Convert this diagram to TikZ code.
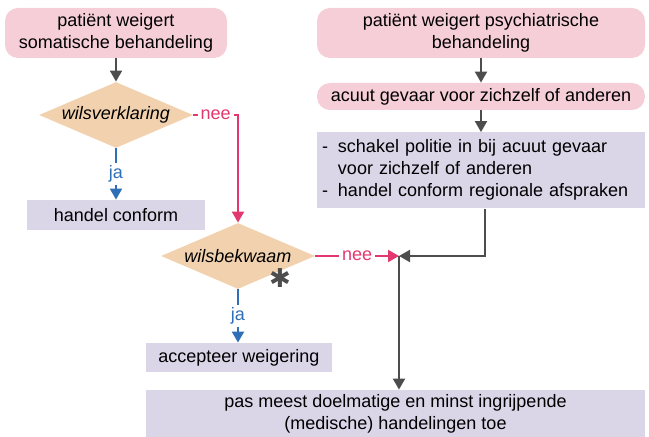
\documentclass[tikz,border=0pt]{standalone}
\usepackage{fontspec}
\setmainfont{Liberation Sans}
\newfontfamily\symfont{DejaVu Sans}
\usetikzlibrary{positioning,shapes.geometric,arrows.meta}
\definecolor{patpink}{HTML}{F6CED8}
\definecolor{actlilac}{HTML}{DAD6E8}
\definecolor{asktan}{HTML}{F2D2AE}
\definecolor{neepink}{HTML}{E3386F}
\definecolor{jablue}{HTML}{2E6FB7}
\definecolor{linegrey}{HTML}{4D4D4D}

\begin{document}
\begin{tikzpicture}[font=\fontsize{9}{11}\selectfont, node distance=0pt,
	patbox/.style={fill=patpink, rounded corners=6.5pt, align=center, inner sep=0pt},
	actbox/.style={fill=actlilac, align=center, inner sep=0pt},
	askbox/.style={diamond, fill=asktan, aspect=2.3, inner sep=0pt, minimum width=77pt, minimum height=33pt, font=\fontsize{9}{11}\selectfont\itshape},
	flow/.style={draw=linegrey, line width=1pt, -{Triangle[length=5.5pt,width=6pt]}},
	neeline/.style={color=neepink, line width=1pt, -{Triangle[length=5.5pt,width=6pt]}},
	jaline/.style={color=jablue, line width=1pt, -{Triangle[length=5.5pt,width=6pt]}},
	lbl/.style={fill=white, inner sep=1.5pt}]
	\useasboundingbox (0,0) rectangle (324.5pt,-218.5pt);
	%
	\node[patbox, minimum width=111pt, minimum height=25pt] (soma) at (58pt,-16.5pt) {patiënt weigert\\somatische behandeling};
	\node[patbox, minimum width=164pt, minimum height=25pt, right of=soma, xshift=182.5pt] (psych) {patiënt weigert psychiatrische\\behandeling};
	\node[patbox, minimum width=164pt, minimum height=13.5pt, below of=psych, yshift=-31.75pt] (acuut) {acuut gevaar voor zichzelf of anderen};
	\node[actbox, text width=159pt, inner sep=2.5pt, minimum height=37.5pt, align=left, below of=acuut, yshift=-37pt] (politie) {%
		\begin{tabular}{@{}l@{\hspace{5pt}}l@{}}
			- & schakel politie in bij acuut gevaar\\
			  & voor zichzelf of anderen\\
			- & handel conform regionale afspraken
		\end{tabular}};
	%
	\node[askbox, below of=soma, yshift=-41pt] (wv) {wilsverklaring};
	\node[actbox, minimum width=89pt, minimum height=15pt, below of=wv, yshift=-50pt] (conform) {handel conform};
	\node[askbox, below of=wv, xshift=61pt, yshift=-70.5pt] (wb) {wilsbekwaam};
	\node[right of=wb, xshift=21pt, yshift=-11pt, inner sep=0pt, text=linegrey, font=\symfont\fontsize{13}{13}\selectfont] (ster) {✱};
	\coordinate[right of=wb, xshift=80.5pt] (J);
	\node[actbox, minimum width=93pt, minimum height=14.5pt, below of=wb, xshift=0.5pt, yshift=-50.75pt] (accept) {accepteer weigering};
	\node[actbox, minimum width=249.5pt, minimum height=23.5pt, below of=accept, xshift=78.25pt, yshift=-28pt] (pas) {pas meest doelmatige en minst ingrijpende\\(medische) handelingen toe};
	%
	\path (soma) edge[flow] (wv);
	\path (psych) edge[flow] (acuut);
	\path (acuut) edge[flow] (politie);
	%
	\draw[neeline] (wv) -| node[lbl, pos=0.25]{nee} (wb);
	\path (wv) edge[jaline] node[lbl]{ja} (conform);
	\path (wb) edge[neeline] node[lbl]{nee} (J);
	\path (wb) edge[jaline] node[lbl]{ja} (wb |- accept.north);
	%
	\draw[flow] ([xshift=2pt]politie.south) |- (J);
	\draw[flow] (J) -- (J |- pas.north);
\end{tikzpicture}
\end{document}
